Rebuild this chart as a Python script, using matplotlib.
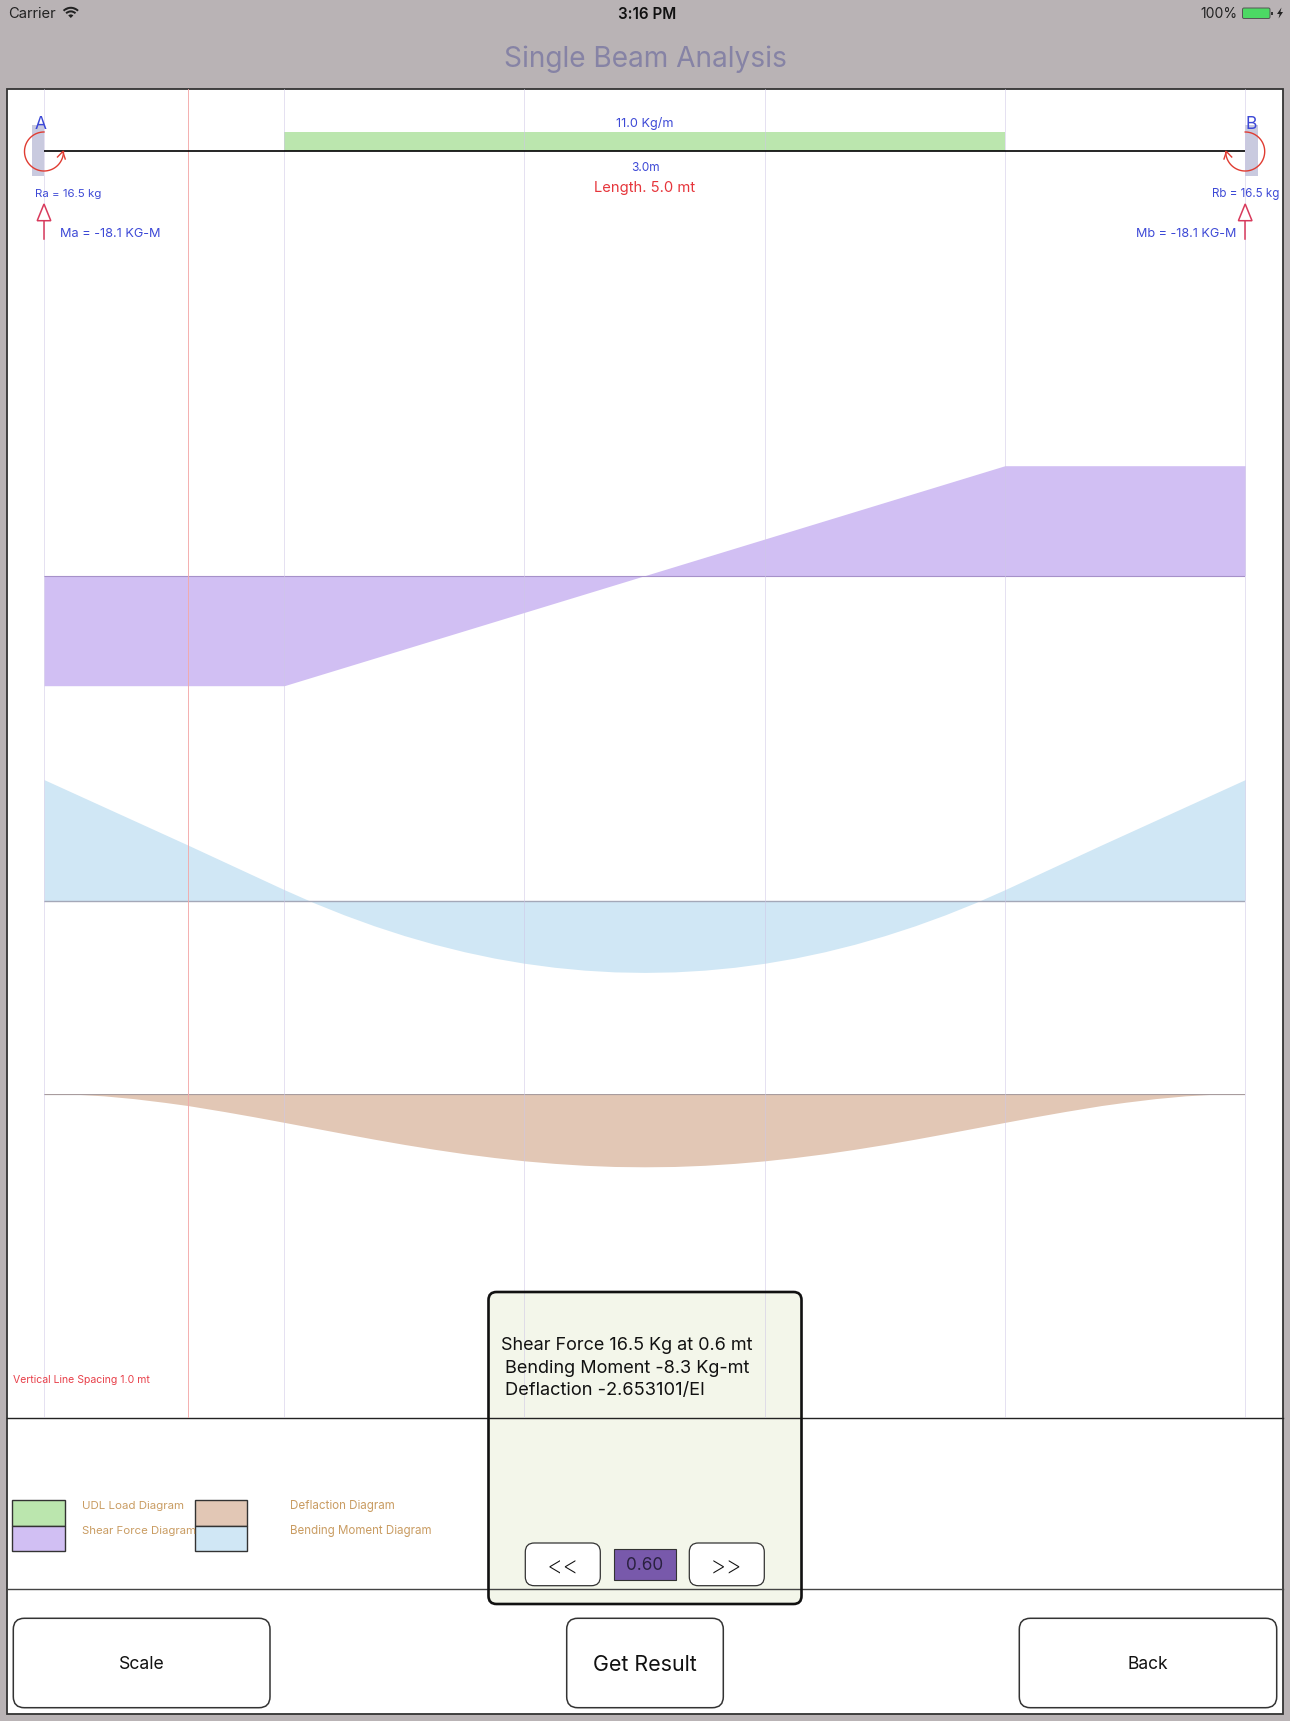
import numpy as np
import matplotlib
matplotlib.use('Agg')
from matplotlib import pyplot as plt
from matplotlib.patches import FancyBboxPatch, Rectangle, Polygon, Wedge

W, H = 1290, 1721
plt.rcParams['font.family'] = ['Inter', 'DejaVu Sans']

# beam
beam_length = 5.0
grid_x = [0, 1, 2, 3, 4, 5]
udl_span = [1.0, 4.0]
cursor_x = 0.6

# shear force, kg
shear_x = [0, 1, 4, 5]
shear_v = [-16.5, -16.5, 16.5, 16.5]

# bending moment, kg-m
moment_x = [0, 0.6, 1.0, 1.125, 1.25, 1.375, 1.5, 1.625, 1.75, 1.875, 2.0, 2.125, 2.25, 2.375, 2.5,
            2.625, 2.75, 2.875, 3.0, 3.125, 3.25, 3.375, 3.5, 3.625, 3.75, 3.875, 4.0, 4.4, 5.0]
moment_v = [-18.1, -8.3, -1.65, 0.33, 2.13, 3.76, 5.22, 6.51, 7.63, 8.58, 9.35, 9.95, 10.38, 10.64, 10.72,
            10.64, 10.38, 9.95, 9.35, 8.58, 7.63, 6.51, 5.22, 3.76, 2.13, 0.33, -1.65, -8.3, -18.1]

# deflection, 1/EI
defl_x = [0, 0.125, 0.25, 0.375, 0.5, 0.6, 0.75, 0.875, 1.0, 1.125, 1.25, 1.375, 1.5, 1.625, 1.75, 1.875,
          2.0, 2.125, 2.25, 2.375, 2.5, 2.625, 2.75, 2.875, 3.0, 3.125, 3.25, 3.375, 3.5, 3.625, 3.75,
          3.875, 4.0, 4.125, 4.25, 4.4, 4.5, 4.625, 4.75, 4.875, 5.0]
defl_v = [0, 0.14, 0.52, 1.13, 1.93, 2.65, 3.95, 5.11, 6.33, 7.57, 8.81, 10.02, 11.17, 12.23, 13.2, 14.04,
          14.76, 15.32, 15.74, 16.0, 16.07, 16.0, 15.74, 15.32, 14.76, 14.04, 13.2, 12.23, 11.17, 10.02, 8.81,
          7.57, 6.33, 5.11, 3.95, 2.65, 1.93, 1.13, 0.52, 0.14, 0]

legend_left = ['UDL Load Diagram', 'Shear Force Diagram']
legend_right = ['Deflaction Diagram', 'Bending Moment Diagram']
result_lines = ['Shear Force 16.5 Kg at 0.6 mt', 'Bending Moment -8.3 Kg-mt', 'Deflaction -2.653101/EI']

GREY = '#b9b3b5'
BLUE = '#3d49d6'
RED = '#e6353b'
CRIMSON = '#d83a5c'
TAN = '#c99c62'
GREEN = '#bbe6ae'
PURPLE = '#d1bff3'
SKY = '#d0e7f5'
BROWN = '#e2c7b5'
DARK = '#333333'

fig = plt.figure(figsize=(W / 100, H / 100), dpi=100, facecolor=GREY)
renderer = fig.canvas.get_renderer()


def px_axes(x0, y0, x1, y1, z):
    ax = fig.add_axes([x0 / W, 1 - y1 / H, (x1 - x0) / W, (y1 - y0) / H], zorder=z)
    ax.axis('off')
    return ax


def layer(z):
    ax = px_axes(0, 0, W, H, z)
    ax.set_xlim(0, W)
    ax.set_ylim(H, 0)
    return ax


def label(ax, x, y, s, width, color, ha='left', **kw):
    # font size is chosen so the string comes out as wide as in the screenshot
    t = ax.text(x, y, s, color=color, ha=ha, va='center', fontsize=10, **kw)
    w = t.get_window_extent(renderer).width
    size = 10 * width / w
    t.set_fontsize(size)
    t.set_y(y + 0.1 * size)
    return t


def rbox(ax, x0, y0, x1, y1, r, fc='white', ec=DARK, lw=1.1, z=2):
    p = FancyBboxPatch((x0, y0), x1 - x0, y1 - y0, boxstyle='round,pad=0,rounding_size=%g' % r,
                       fc=fc, ec=ec, lw=lw, zorder=z)
    ax.add_patch(p)
    return p


back = layer(0)
ui = layer(5)

# page frame, popup body and dividers
back.add_patch(Rectangle((7, 89), 1276, 1625, fc='white', ec=DARK, lw=1.3, zorder=1))
rbox(back, 488.5, 1292, 801.5, 1604, 8, fc='#f3f6ea', ec='none', lw=0, z=2)
back.plot([7, 1283], [1418, 1418], color='#222222', lw=1.0, zorder=3)
back.plot([7, 1283], [1589, 1589], color='#444444', lw=1.0, zorder=3)

# diagrams, each with its own scale
X0, X1 = 44.0, 1245.2

shear_ax = px_axes(X0, 465.7, X1, 685.7, 1)
shear_ax.set_xlim(0, beam_length)
shear_ax.set_ylim(-16.5, 16.5)
shear_ax.fill_between(shear_x, shear_v, 0, color=PURPLE, lw=0)
shear_ax.axhline(0, color='#a691c9', lw=0.8)

moment_ax = px_axes(X0, 779.6, X1, 1021.8, 1)
moment_ax.set_xlim(0, beam_length)
moment_ax.set_ylim(18.1, -18.1)
moment_ax.fill_between(moment_x, moment_v, 0, color=SKY, lw=0)
moment_ax.axhline(0, color='#a4a8b8', lw=1.0)

defl_ax = px_axes(X0, 1093.5, X1, 1240.1, 1)
defl_ax.set_xlim(0, beam_length)
defl_ax.set_ylim(32.14, 0)
defl_ax.fill_between(defl_x, defl_v, 0, color=BROWN, lw=0)
defl_ax.axhline(0, color='#a89c9e', lw=1.6)

# guide lines and load, x in metres, y in pixels
guide = px_axes(X0 - 1, 89, X1 + 1, 1418, 2)
guide.set_xlim(-1 / 240.24, beam_length + 1 / 240.24)
guide.set_ylim(1418, 89)
guide.add_patch(Rectangle((udl_span[0], 132.3), udl_span[1] - udl_span[0], 18.7, fc=GREEN, ec='none'))
for gx in grid_x:
    guide.axvline(gx, color='#cfc7e6', lw=0.7, alpha=0.55)
guide.axvline(cursor_x, color='#f3a9a9', lw=0.65)

# supports
back.add_patch(Rectangle((32, 125), X0 - 32, 51, fc='#c9cadf', ec='none', zorder=2))
back.add_patch(Rectangle((X1, 125), 12.5, 51, fc='#c9cadf', ec='none', zorder=2))
ui.plot([X0, X1], [151, 151], color='black', lw=1.2, zorder=3, solid_capstyle='butt')

theta = np.radians(np.linspace(90, 360, 80))
for cx, sign in [(X0, 1), (X1, -1)]:
    ui.plot(cx + sign * 19.5 * np.cos(theta), 151.5 - 19.5 * np.sin(theta), color='#e03c32', lw=1.0, zorder=4)
    ui.plot([cx + sign * 13.5, cx + sign * 18.8, cx + sign * 21.2], [157, 151.5, 159], color='#e03c32', lw=1.0, zorder=4)
    ui.plot([cx, cx], [221, 239], color=CRIMSON, lw=1.1, zorder=4)
    ui.add_patch(Polygon([[cx, 204], [cx - 6.8, 220.7], [cx + 6.8, 220.7]], fc='white', ec=CRIMSON, lw=1.1, zorder=4))

# status bar
label(ui, 8, 13, 'Carrier', 48, '#222222')
ui.add_patch(Wedge((70.8, 18), 3.6, 225, 315, fc='#222222', ec='none'))
ui.add_patch(Wedge((70.8, 18), 7.6, 225, 315, width=2.0, fc='#222222', ec='none'))
ui.add_patch(Wedge((70.8, 18), 11.2, 225, 315, width=2.0, fc='#222222', ec='none'))
label(ui, 646.7, 13, '3:16 PM', 58, '#111111', ha='center', fontweight='semibold')
label(ui, 1200, 13, '100%', 37, '#222222')
rbox(ui, 1242.5, 8, 1270, 18.5, 1.5, fc='#4cd964', ec='#555555', lw=0.7)
ui.add_patch(Rectangle((1271, 11.5), 1.5, 3.5, fc='#333333', ec='none'))
ui.add_patch(Polygon([[1281.5, 7.5], [1277, 14], [1279.6, 14], [1278.6, 18.5], [1283, 12], [1280.4, 12]], fc='#222222', ec='none'))

label(ui, 645, 57, 'Single Beam Analysis', 285, '#8683a5', ha='center')

# beam annotations
label(ui, 40.5, 123, 'A', 12, BLUE, ha='center')
label(ui, 1251, 123, 'B', 11.5, BLUE, ha='center')
label(ui, 644.5, 123, '11.0 Kg/m', 58, BLUE, ha='center')
label(ui, 645, 167, '3.0m', 29, BLUE, ha='center')
label(ui, 645, 187, 'Length. 5.0 mt', 102, RED, ha='center')
label(ui, 35, 193, 'Ra = 16.5 kg', 67, BLUE)
label(ui, 1211.7, 193, 'Rb = 16.5 kg', 68, BLUE)
label(ui, 60, 233, 'Ma = -18.1 KG-M', 101, BLUE)
label(ui, 1236.7, 233, 'Mb = -18.1 KG-M', 101, BLUE, ha='right')
label(ui, 13, 1379, 'Vertical Line Spacing 1.0 mt', 138, '#e8404a')

# legend
for x0, x1, fills in [(12.3, 64.7, [GREEN, PURPLE]), (195.3, 247.3, [BROWN, SKY])]:
    ui.add_patch(Rectangle((x0, 1500), x1 - x0, 25.7, fc=fills[0], ec=DARK, lw=1.0))
    ui.add_patch(Rectangle((x0, 1525.7), x1 - x0, 25.6, fc=fills[1], ec=DARK, lw=1.0))
label(ui, 82, 1505, legend_left[0], 103, TAN)
label(ui, 82, 1530.5, legend_left[1], 115, TAN)
label(ui, 290, 1505, legend_right[0], 105.7, TAN)
label(ui, 290, 1530.5, legend_right[1], 143, TAN)

# bottom buttons
rbox(ui, 13.3, 1618.3, 270, 1707.7, 11)
rbox(ui, 566.7, 1618.3, 723.3, 1707.7, 11)
rbox(ui, 1019.3, 1618.3, 1276.7, 1707.7, 11)
label(ui, 141.7, 1663, 'Scale', 46, '#111111', ha='center')
label(ui, 645, 1663, 'Get Result', 104, '#111111', ha='center')
label(ui, 1148.3, 1663, 'Back', 41, '#111111', ha='center')

# popup
rbox(ui, 488.5, 1292, 801.5, 1604, 8, fc='none', ec='#111111', lw=1.9)
label(ui, 500.7, 1344, result_lines[0], 253, '#111111')
label(ui, 505.3, 1366.7, result_lines[1], 246, '#111111')
label(ui, 505.3, 1388.7, result_lines[2], 201, '#111111')
rbox(ui, 525.3, 1543, 600.3, 1585.7, 9, lw=0.9)
rbox(ui, 689.3, 1543, 764.3, 1585.7, 9, lw=0.9)
label(ui, 562.7, 1566, '<<', 33, '#111111', ha='center', fontweight='light')
label(ui, 726, 1566, '>>', 33, '#111111', ha='center', fontweight='light')
ui.add_patch(Rectangle((613.7, 1549.3), 62.3, 30.4, fc='#7859ab', ec='#333333', lw=0.8))
label(ui, 645, 1564.5, '0.60', 38, '#2a2140', ha='center')

fig.savefig('out.png', dpi=100, facecolor=GREY)
